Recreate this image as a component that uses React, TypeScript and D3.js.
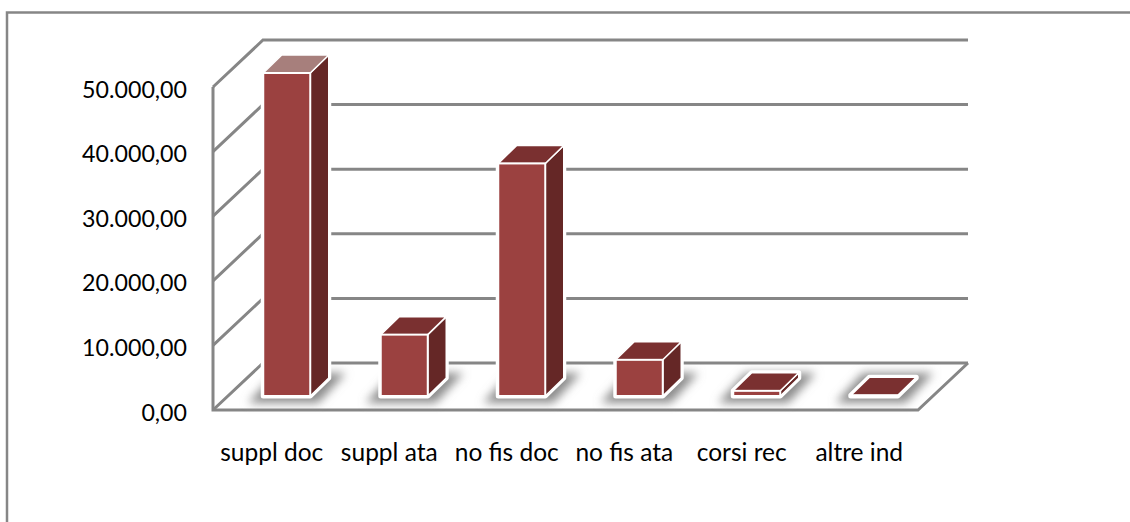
import React from "react";
import * as d3 from "d3";

const categories = ["suppl doc", "suppl ata", "no fis doc", "no fis ata", "corsi rec", "altre ind"];
const values = [50000, 9500, 36000, 5600, 800, 100];
const ticks = [0, 10000, 20000, 30000, 40000, 50000];
const tickLabels = ["0,00", "10.000,00", "20.000,00", "30.000,00", "40.000,00", "50.000,00"];

const width = 1130;
const height = 522;
const floorLeft = 213;
const floorRight = 918;
const floorY = 410;
// profondita' del pavimento
const wallDx = 50;
const wallDy = 47;
// spostamento e profondita' delle barre
const barW = 47;
const barDx = 15;
const barDy = 14;
const sideDx = 18.5;
const sideDy = 18;

const gridColor = "#868686";
const frontColor = "#9b4140";
const sideColor = "#652726";
const topColor = "#7a3030";
const firstTopColor = "#a77f7c";

const font = "Lato, 'Open Sans', sans-serif";

export default function App() {
	const x = d3.scaleBand().domain(categories).range([floorLeft, floorRight]);
	const y = d3.scaleLinear().domain([0, 50000]).range([floorY, 87]);

	const line = d3.line<[number, number]>();

	return (
		<svg
			width={width}
			height={height}
			style={{ position: "absolute", left: 0, top: 0, background: "#fff" }}
		>
			<defs>
				<filter id="shadow" x="-40%" y="-200%" width="180%" height="500%">
					<feGaussianBlur stdDeviation="5" />
				</filter>
			</defs>

			{/* cornice esterna */}
			<path
				d={line([[7, height], [7, 12.5], [width, 12.5]]) || ""}
				fill="none"
				stroke={gridColor}
				strokeWidth={2.5}
			/>

			{/* griglia */}
			{ticks.map((t) => (
				<path
					key={t}
					d={
						line([
							[floorLeft, y(t)],
							[floorLeft + wallDx, y(t) - wallDy],
							[floorRight + wallDx, y(t) - wallDy],
						]) || ""
					}
					fill="none"
					stroke={gridColor}
					strokeWidth={3}
				/>
			))}

			{/* asse e pavimento */}
			<path
				d={
					line([
						[floorLeft, y(50000)],
						[floorLeft, floorY],
						[floorRight, floorY],
						[floorRight + wallDx, floorY - wallDy],
					]) || ""
				}
				fill="none"
				stroke={gridColor}
				strokeWidth={3}
			/>

			{/* barre */}
			{categories.map((c, i) => {
				const x0 = (x(c) as number) + (x.bandwidth() - barW) / 2 + barDx;
				const y0 = floorY - barDy;
				const h = floorY - y(values[i]);
				const yt = y0 - h;
				const x1 = x0 + barW;
				return (
					<g key={c}>
						<path
							d={
								line([
									[x0 - 15, y0 + 7],
									[x1 + 8, y0 + 7],
									[x1 + sideDx + 17, y0 - sideDy - 5],
									[x0 + 12, y0 - sideDy - 5],
								]) + "Z"
							}
							fill="#8c8c8c"
							filter="url(#shadow)"
						/>
						{/* alone bianco intorno alla barra */}
						<path
							d={
								line([
									[x0, yt],
									[x0 + sideDx, yt - sideDy],
									[x1 + sideDx, yt - sideDy],
									[x1 + sideDx, y0 - sideDy],
									[x1, y0],
									[x0, y0],
								]) + "Z"
							}
							fill="#fff"
							stroke="#fff"
							strokeWidth={5}
							strokeLinejoin="round"
						/>
						<path
							d={
								line([
									[x1, yt],
									[x1 + sideDx, yt - sideDy],
									[x1 + sideDx, y0 - sideDy],
									[x1, y0],
								]) + "Z"
							}
							fill={sideColor}
							stroke="#fff"
							strokeWidth={1.5}
							strokeLinejoin="round"
						/>
						<path
							d={
								line([
									[x0, yt],
									[x0 + sideDx, yt - sideDy],
									[x1 + sideDx, yt - sideDy],
									[x1, yt],
								]) + "Z"
							}
							fill={i === 0 ? firstTopColor : topColor}
							stroke="#fff"
							strokeWidth={1.5}
							strokeLinejoin="round"
						/>
						<rect
							x={x0}
							y={yt}
							width={barW}
							height={h}
							fill={frontColor}
							stroke="#fff"
							strokeWidth={2}
						/>
					</g>
				);
			})}

			{/* etichette asse y */}
			{ticks.map((t, i) => (
				<text
					key={t}
					x={187}
					y={y(t) + 10.5}
					textAnchor="end"
					fontFamily={font}
					fontSize={23.2}
					fill="#000"
				>
					{tickLabels[i]}
				</text>
			))}

			{/* etichette categorie */}
			{categories.map((c) => (
				<text
					key={c}
					x={(x(c) as number) + x.bandwidth() / 2}
					y={461}
					textAnchor="middle"
					fontFamily={font}
					fontSize={24.5}
					fill="#000"
				>
					{c}
				</text>
			))}
		</svg>
	);
}
